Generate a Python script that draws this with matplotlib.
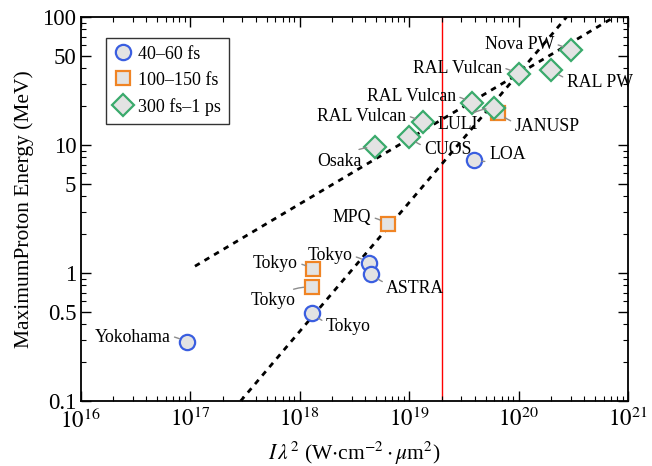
import numpy as np
import matplotlib
matplotlib.use('Agg')
import matplotlib.pyplot as plt
from matplotlib.ticker import FixedLocator, LogLocator, NullFormatter

plt.rcParams['font.family'] = ['Liberation Serif', 'DejaVu Serif']
plt.rcParams['mathtext.fontset'] = 'stix'

# Data (I*lambda^2 in W cm^-2 um^2, energy in MeV)
fs_labels = ['Yokohama', 'Tokyo', 'Tokyo', 'ASTRA', 'LOA']
fs_x = [9.4e16, 1.30e18, 4.3e18, 4.5e18, 3.9e19]
fs_y = [0.289, 0.487, 1.20, 0.98, 7.6]

mid_labels = ['Tokyo', 'Tokyo', 'MPQ', 'JANUSP']
mid_x = [1.33e18, 1.30e18, 6.4e18, 6.5e19]
mid_y = [1.07, 0.777, 2.41, 17.8]

ps_labels = ['Osaka', 'CUOS', 'RAL Vulcan', 'RAL Vulcan', 'LULI',
             'RAL Vulcan', 'RAL PW', 'Nova PW']
ps_x = [4.9e18, 1.0e19, 1.34e19, 3.8e19, 6.0e19, 1.0e20, 2.0e20, 3.0e20]
ps_y = [9.6, 11.5, 15.1, 21.3, 19.5, 35.9, 38.5, 55.0]

# dashed scaling lines (end points)
steep_x = [2.9e17, 2.75e20]
steep_y = [0.1, 100]
shallow_x = [1.11e17, 7.5e20]
shallow_y = [1.13, 100]

red_x = 2e19

# label offsets in points (dx, dy) and alignment
fs_off = [(-12, 3, 'right'), (10, -10, 'left'), (-12, 5, 'right'), (11, -10, 'left'), (11, 4, 'left')]
mid_off = [(-11, 4, 'right'), (-12, -10, 'right'), (-12, 5, 'right'), (12, -10, 'left')]
ps_off = [(-10, -10, 'right'), (11, -9, 'left'), (-12, 4, 'right'), (-12, 5, 'right'),
          (-12, -12, 'right'), (-12, 4, 'right'), (11, -9, 'left'), (-12, 4, 'right')]

face = '#e3e3e3'
blue = '#3a5ee0'
orange = '#f08424'
green = '#3aaa6c'

fig = plt.figure(figsize=(6.52, 4.66), dpi=100)
ax = fig.add_axes([80.5/652, 1 - 401/466, 547.5/652, 384/466])

ax.axvline(red_x, color='red', lw=1.0, zorder=1)
ax.plot(steep_x, steep_y, color='black', ls=(0, (2, 2)), lw=2.0, zorder=2)
ax.plot(shallow_x, shallow_y, color='black', ls=(0, (2, 2)), lw=2.0, zorder=2)

ax.plot(fs_x, fs_y, 'o', ms=11, mfc=face, mec=blue, mew=1.6, ls='none',
        label='40\u201360 fs', zorder=4)
ax.plot(mid_x, mid_y, 's', ms=10.5, mfc=face, mec=orange, mew=1.6, ls='none',
        label='100\u2013150 fs', zorder=3)
ax.plot(ps_x, ps_y, 'D', ms=11, mfc=face, mec=green, mew=1.6, ls='none',
        label='300 fs\u20131 ps', zorder=5)

for labels, xs, ys, offs in [(fs_labels, fs_x, fs_y, fs_off),
                             (mid_labels, mid_x, mid_y, mid_off),
                             (ps_labels, ps_x, ps_y, ps_off)]:
    for lab, x, y, (dx, dy, ha) in zip(labels, xs, ys, offs):
        ax.annotate(lab, xy=(x, y), xytext=(dx, dy), textcoords='offset points',
                    ha=ha, va='center', fontsize=12.8,
                    arrowprops=dict(arrowstyle='-', color='#8c8c8c', lw=1.0,
                                    shrinkA=1, shrinkB=6,
                                    connectionstyle='arc3,rad=-0.2'),
                    zorder=6)

ax.set_xscale('log')
ax.set_yscale('log')
ax.set_xlim(1e16, 1e21)
ax.set_ylim(0.1, 100)

ax.xaxis.set_major_locator(FixedLocator([1e16, 1e17, 1e18, 1e19, 1e20, 1e21]))
ax.xaxis.set_minor_locator(LogLocator(base=10, subs=np.arange(2, 10), numticks=20))
ax.xaxis.set_minor_formatter(NullFormatter())
ax.set_xticklabels([r'$10^{16}$', r'$10^{17}$', r'$10^{18}$', r'$10^{19}$',
                    r'$10^{20}$', r'$10^{21}$'])

yt = [0.1, 0.5, 1, 5, 10, 50, 100]
ax.yaxis.set_major_locator(FixedLocator(yt))
ax.yaxis.set_minor_locator(LogLocator(base=10, subs=np.arange(2, 10), numticks=20))
ax.yaxis.set_minor_formatter(NullFormatter())
ax.set_yticklabels(['0.1', '0.5', '1', '5', '10', '50', '100'])

ax.tick_params(which='both', direction='in', top=True, right=True, labelsize=16.5)
ax.tick_params(which='major', length=7, width=1.0)
ax.tick_params(which='minor', length=3.5, width=0.8)
ax.tick_params(axis='x', pad=5)
ax.tick_params(axis='y', pad=3)
for s in ax.spines.values():
    s.set_linewidth(1.3)

ax.set_xlabel(r'$I\,\lambda^2$ (W$\cdot$cm$^{-2}\cdot\mu$m$^2$)', fontsize=15.5, labelpad=5)
ax.set_ylabel('MaximumProton Energy (MeV)', fontsize=15.5, labelpad=6)

leg = ax.legend(loc='upper left', bbox_to_anchor=(0.03, 0.97), fontsize=13,
                frameon=True, fancybox=False, edgecolor='black',
                handletextpad=0.3, borderpad=0.45, labelspacing=0.5,
                handlelength=1.0)
leg.get_frame().set_linewidth(1.0)

fig.savefig('out.png', dpi=100)
